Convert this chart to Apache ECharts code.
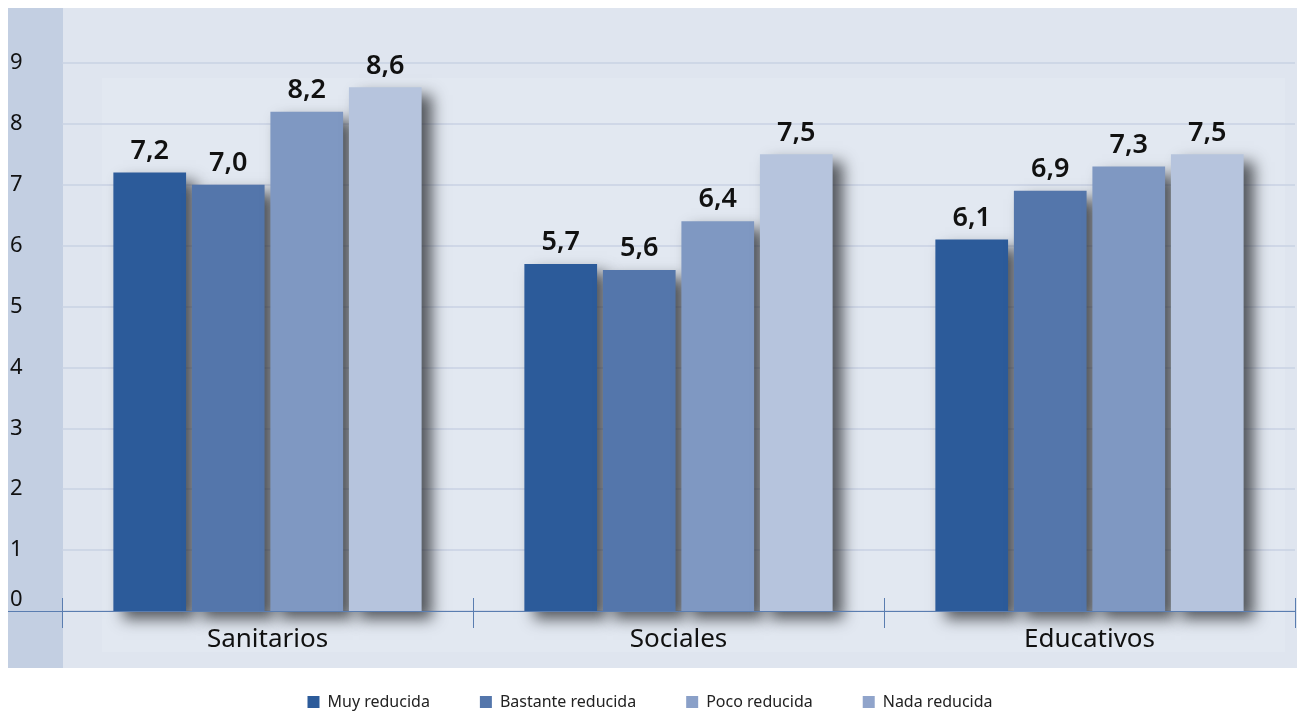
<!DOCTYPE html>
<html>
<head>
<meta charset="utf-8">
<script src="https://cdn.jsdelivr.net/npm/echarts@6/dist/echarts.min.js"></script>
<style>
html,body{margin:0;padding:0;background:#fff;}
#chart{width:1300px;height:711px;}
</style>
</head>
<body>
<div id="chart"></div>
<script>
var categories = ['Sanitarios', 'Sociales', 'Educativos'];
var seriesNames = ['Muy reducida', 'Bastante reducida', 'Poco reducida', 'Nada reducida'];
var muyReducida = [7.2, 5.7, 6.1];
var bastanteReducida = [7.0, 5.6, 6.9];
var pocoReducida = [8.2, 6.4, 7.3];
var nadaReducida = [8.6, 7.5, 7.5];
var yTicks = [0, 1, 2, 3, 4, 5, 6, 7, 8, 9];

var colors = ['#2c5b9a', '#5476ab', '#7f98c2', '#b6c4dd'];
var legendColors = ['#2c5b9a', '#5476ab', '#8aa0c8', '#90a4cb'];
var values = [muyReducida, bastanteReducida, pocoReducida, nadaReducida];
var FONT = 'Noto Sans, sans-serif';

var chart = echarts.init(document.getElementById('chart'));

var series = seriesNames.map(function (name, i) {
  return {
    name: name,
    type: 'bar',
    xAxisIndex: 0,
    yAxisIndex: 0,
    barCategoryGap: '25%',
    barGap: '8%',
    data: values[i],
    itemStyle: {
      color: colors[i],
      shadowBlur: 14,
      shadowColor: 'rgba(35,38,42,0.75)',
      shadowOffsetX: 10,
      shadowOffsetY: 8
    },
    label: {
      show: true,
      position: 'top',
      distance: 8,
      fontFamily: FONT,
      fontSize: 27,
      fontWeight: 600,
      color: '#111',
      formatter: function (p) { return p.value.toFixed(1).replace('.', ','); }
    },
    emphasis: { disabled: true }
  };
});

chart.setOption({
  animation: false,
  graphic: [
    { type: 'rect', z: -10, silent: true, shape: { x: 8, y: 8, width: 1289, height: 660 }, style: { fill: '#dfe5ef' } },
    { type: 'rect', z: -9, silent: true, shape: { x: 102, y: 78, width: 1183, height: 574 }, style: { fill: '#e2e8f1' } },
    { type: 'rect', z: -9, silent: true, shape: { x: 8, y: 8, width: 55, height: 660 }, style: { fill: '#c3cfe2' } },
    { type: 'line', z: 10, silent: true, shape: { x1: 8, y1: 611.5, x2: 62, y2: 611.5 }, style: { stroke: '#5a7db0', lineWidth: 1 } }
  ],
  grid: { left: 62, right: 5, top: 63, bottom: 100, containLabel: false },
  legend: {
    top: 689,
    left: 'center',
    icon: 'rect',
    itemWidth: 12,
    itemHeight: 12,
    itemGap: 50,
    textStyle: { fontFamily: FONT, fontSize: 16, color: '#222', padding: [0, 0, 0, 3] },
    data: seriesNames.map(function (n, i) { return { name: n, itemStyle: { color: legendColors[i] } }; })
  },
  xAxis: [
    {
      type: 'category',
      data: categories,
      position: 'bottom',
      axisLine: { show: true, lineStyle: { color: '#5a7db0', width: 1 } },
      axisTick: { show: true, length: 17, lineStyle: { color: '#5a7db0' } },
      axisLabel: { fontFamily: FONT, fontSize: 26, color: '#111', margin: 16 },
      z: 10
    },
    {
      type: 'category',
      data: categories,
      position: 'bottom',
      axisLine: { show: false },
      axisTick: { show: true, inside: true, length: 13, lineStyle: { color: '#5a7db0' } },
      axisLabel: { show: false },
      z: 10
    }
  ],
  yAxis: {
    type: 'value',
    min: yTicks[0],
    max: yTicks[yTicks.length - 1],
    interval: 1,
    axisLine: { show: false },
    axisTick: { show: false },
    axisLabel: {
      align: 'left',
      margin: 52,
      fontFamily: FONT,
      fontSize: 22,
      color: '#111',
      formatter: function (v) {
        if (yTicks.indexOf(v) < 0) return '';
        return v === 0 ? '{z|0}' : String(v);
      },
      rich: { z: { fontFamily: FONT, fontSize: 22, color: '#111', padding: [0, 0, 22, 0] } }
    },
    splitLine: { lineStyle: { color: '#c8d2e3', width: 1.5 } }
  },
  series: series
});
</script>
</body>
</html>
